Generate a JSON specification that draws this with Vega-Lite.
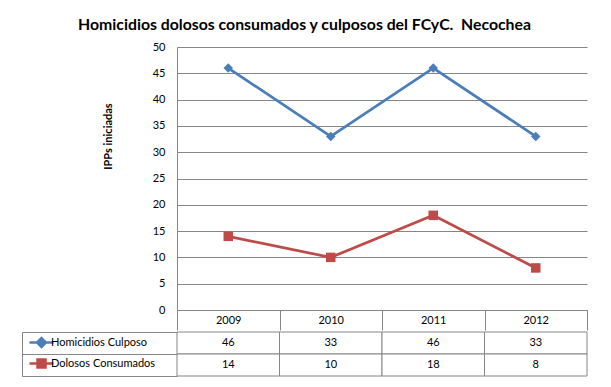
{
  "$schema": "https://vega.github.io/schema/vega-lite/v6.json",
  "padding": {"left": 21, "top": 17, "right": 20, "bottom": 8},
  "background": "white",
  "config": {
    "view": {"stroke": null},
    "font": "Lato",
    "axis": {"labelFont": "Lato", "titleFont": "Lato", "labelColor": "#000", "titleColor": "#000"},
    "legend": {"labelFont": "Lato"}
  },
  "title": {
    "text": "Homicidios dolosos consumados y culposos del FCyC. \u00a0Necochea",
    "font": "Lato",
    "fontSize": 15.8,
    "fontWeight": "bold",
    "color": "#000",
    "anchor": "middle",
    "offset": 7
  },
  "datasets": {
    "d": [
      {"year": "2009", "series": "Homicidios Culposo", "value": 46},
      {"year": "2010", "series": "Homicidios Culposo", "value": 33},
      {"year": "2011", "series": "Homicidios Culposo", "value": 46},
      {"year": "2012", "series": "Homicidios Culposo", "value": 33},
      {"year": "2009", "series": "Dolosos Consumados", "value": 14},
      {"year": "2010", "series": "Dolosos Consumados", "value": 10},
      {"year": "2011", "series": "Dolosos Consumados", "value": 18},
      {"year": "2012", "series": "Dolosos Consumados", "value": 8}
    ]
  },
  "spacing": 0,
  "resolve": {"scale": {"color": "independent", "shape": "independent"}},
  "vconcat": [
    {
      "width": 410,
      "height": 263,
      "data": {"name": "d"},
      "encoding": {
        "x": {
          "field": "year", "type": "ordinal",
          "scale": {"type": "band", "paddingInner": 0, "paddingOuter": 0},
          "axis": {
            "title": null, "labelAngle": 0, "tickBand": "extent", "tickSize": 20,
            "labelPadding": -16, "domainColor": "#868686", "tickColor": "#868686",
            "grid": false, "labelFontSize": 11
          }
        },
        "y": {
          "field": "value", "type": "quantitative",
          "scale": {"domain": [0, 50]},
          "axis": {
            "values": [0, 5, 10, 15, 20, 25, 30, 35, 40, 45, 50],
            "title": "IPPs iniciadas", "ticks": false, "labelPadding": 12,
            "labelFontSize": 11,
            "gridColor": "#868686", "domainColor": "#868686",
            "titleFontSize": 11, "titleFontWeight": "bold",
            "titlePadding": 39, "titleY": 89
          }
        },
        "color": {
          "field": "series", "type": "nominal",
          "scale": {"domain": ["Homicidios Culposo", "Dolosos Consumados"], "range": ["#4a7ebb", "#be4b48"]},
          "legend": null
        }
      },
      "layer": [
        {"mark": {"type": "line", "strokeWidth": 2.75}},
        {
          "mark": {"type": "point", "filled": true, "size": 90, "opacity": 1},
          "encoding": {
            "shape": {
              "field": "series", "type": "nominal",
              "scale": {"domain": ["Homicidios Culposo", "Dolosos Consumados"], "range": ["diamond", "square"]},
              "legend": null
            }
          }
        }
      ]
    },
    {
      "width": 410,
      "height": 44,
      "data": {"name": "d"},
      "encoding": {
        "x": {
          "field": "year", "type": "ordinal",
          "scale": {"type": "band", "paddingInner": 0, "paddingOuter": 0},
          "axis": null
        },
        "y": {
          "field": "series", "type": "nominal",
          "scale": {"domain": ["Homicidios Culposo", "Dolosos Consumados"], "paddingInner": 0, "paddingOuter": 0},
          "axis": {
            "title": null, "labels": false, "offset": 155, "tickBand": "extent",
            "tickSize": -155, "domainColor": "#868686", "tickColor": "#868686", "grid": false
          }
        }
      },
      "layer": [
        {"mark": {"type": "rect", "fill": "white", "stroke": "#868686", "strokeWidth": 1}},
        {"mark": {"type": "text", "fontSize": 11, "font": "Lato", "color": "#000"}, "encoding": {"text": {"field": "value", "type": "quantitative"}}},
        {
          "mark": {"type": "point", "opacity": 0, "filled": true},
          "encoding": {
            "color": {
              "field": "series", "type": "nominal",
              "scale": {"domain": ["Homicidios Culposo", "Dolosos Consumados"], "range": ["#4a7ebb", "#be4b48"]},
              "legend": {
                "orient": "none", "legendX": -141, "legendY": 5, "title": null, "padding": 0,
                "labelFontSize": 11, "labelColor": "#000", "rowPadding": 2,
                "symbolSize": 16, "symbolStrokeWidth": 2.5, "labelOffset": 4, "symbolOpacity": 1,
                "encode": {
                  "symbols": {
                    "update": {
                      "stroke": {"signal": "datum.value === 'Homicidios Culposo' ? '#4a7ebb' : '#be4b48'"},
                      "strokeWidth": {"value": 2.5},
                      "opacity": {"value": 1}
                    }
                  }
                }
              }
            },
            "shape": {
              "field": "series", "type": "nominal",
              "scale": {"domain": ["Homicidios Culposo", "Dolosos Consumados"], "range": ["M-6,0H6M0,-2.2L2.2,0L0,2.2L-2.2,0Z", "M-6,0H6M-2,-2H2V2H-2Z"]}
            }
          }
        }
      ]
    }
  ]
}
